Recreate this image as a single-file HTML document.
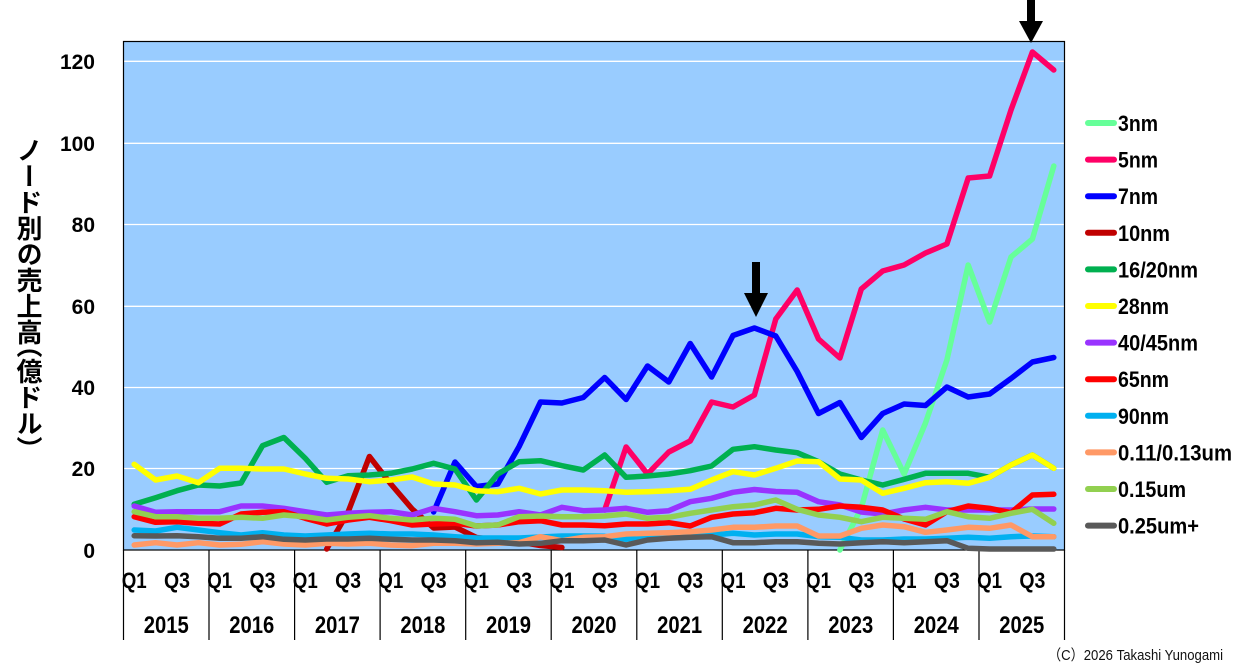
<!DOCTYPE html>
<html><head><meta charset="utf-8"><style>
html,body{margin:0;padding:0;background:#fff;}
body{width:1244px;height:672px;position:relative;overflow:hidden;}
svg{position:absolute;left:0;top:0;}
.yt{position:absolute;left:15px;top:137px;writing-mode:vertical-rl;font-family:"Liberation Sans","Noto Sans CJK JP",sans-serif;font-weight:bold;font-size:26px;line-height:26px;color:#000;letter-spacing:0;}
.yt .p{font-feature-settings:"vhal" 1;}
</style></head><body>
<svg width="1244" height="672" viewBox="0 0 1244 672" xmlns="http://www.w3.org/2000/svg">
<rect x="123.5" y="41.5" width="941" height="508.5" fill="#99CCFF"/>
<g stroke="#fff" stroke-width="1.3">
<line x1="124" y1="61.3" x2="1064" y2="61.3"/>
<line x1="124" y1="143.3" x2="1064" y2="143.3"/>
<line x1="124" y1="224.5" x2="1064" y2="224.5"/>
<line x1="124" y1="306.3" x2="1064" y2="306.3"/>
<line x1="124" y1="387.5" x2="1064" y2="387.5"/>
<line x1="124" y1="468.5" x2="1064" y2="468.5"/>
</g>
<rect x="123.5" y="41.5" width="941" height="508.5" fill="none" stroke="#000" stroke-width="1.2"/>
<g stroke="#000" stroke-width="1.2">
<line x1="123.5" y1="550" x2="123.5" y2="640"/>
<line x1="209" y1="550" x2="209" y2="640"/>
<line x1="294.6" y1="550" x2="294.6" y2="640"/>
<line x1="380.1" y1="550" x2="380.1" y2="640"/>
<line x1="465.7" y1="550" x2="465.7" y2="640"/>
<line x1="551.2" y1="550" x2="551.2" y2="640"/>
<line x1="636.8" y1="550" x2="636.8" y2="640"/>
<line x1="722.3" y1="550" x2="722.3" y2="640"/>
<line x1="807.9" y1="550" x2="807.9" y2="640"/>
<line x1="893.4" y1="550" x2="893.4" y2="640"/>
<line x1="979" y1="550" x2="979" y2="640"/>
<line x1="1064.5" y1="550" x2="1064.5" y2="640"/>
</g>
<g fill="none" stroke-width="5.5" stroke-linejoin="round" stroke-linecap="round">
<polyline stroke="#66FF99" points="839.9,550 861.3,508 882.7,430 904.1,474 925.5,423 946.9,360 968.2,265 989.6,322 1011,257 1032.4,239 1053.8,166"/>
<polyline stroke="#FF0066" points="604.7,510 626.1,447 647.5,474 668.8,452 690.2,441 711.6,402 733,407 754.4,395 775.8,319 797.2,290 818.5,339 839.9,358 861.3,289 882.7,271 904.1,265 925.5,253 946.9,244 968.2,178 989.6,176 1011,110 1032.4,52 1053.8,70"/>
<polyline stroke="#0000FF" points="433.6,512 455,462 476.4,486.5 497.8,484 519.1,446.5 540.5,402 561.9,403 583.3,397.5 604.7,377.5 626.1,399.5 647.5,366 668.8,382 690.2,343.5 711.6,377 733,335.5 754.4,328 775.8,336 797.2,371.5 818.5,413.5 839.9,402.5 861.3,437.5 882.7,413.5 904.1,404 925.5,405.5 946.9,387 968.2,397 989.6,394 1011,378.5 1032.4,362 1053.8,357.5"/>
<polyline stroke="#C00000" points="326.7,549 348.1,512 369.4,456.5 390.8,484 412.2,509 433.6,528 455,527 476.4,537.5 497.8,540 519.1,542 540.5,545.5 561.9,547.5"/>
<polyline stroke="#00B050" points="134.2,504.3 155.6,497.7 177,490.7 198.4,485 219.7,486 241.1,483 262.5,445.7 283.9,437.5 305.3,458.3 326.7,482.3 348.1,475.7 369.4,475 390.8,473.3 412.2,469 433.6,463.3 455,469 476.4,500 497.8,474 519.1,461.7 540.5,460.7 561.9,465.7 583.3,470 604.7,455 626.1,477.3 647.5,476 668.8,474 690.2,470.7 711.6,466 733,449.3 754.4,446.7 775.8,450 797.2,452.7 818.5,461.7 839.9,474 861.3,480 882.7,485 904.1,479.3 925.5,473.3 946.9,473.3 968.2,473.3 989.6,477.3 1011,465 1032.4,455 1053.8,468.3"/>
<polyline stroke="#FFFF00" points="134.2,464.3 155.6,480 177,476 198.4,482.7 219.7,468.3 241.1,468.3 262.5,469 283.9,469 305.3,474 326.7,478.3 348.1,479 369.4,481.7 390.8,480 412.2,477 433.6,484 455,485 476.4,490.7 497.8,491.7 519.1,488.3 540.5,494 561.9,490 583.3,490 604.7,490.7 626.1,492.3 647.5,491.7 668.8,490.7 690.2,489.3 711.6,480 733,471.7 754.4,475 775.8,468.3 797.2,461 818.5,461.7 839.9,479 861.3,480 882.7,493.3 904.1,488.3 925.5,482.7 946.9,481.7 968.2,483.3 989.6,477.3 1011,465 1032.4,455 1053.8,468.3"/>
<polyline stroke="#9933FF" points="134.2,506 155.6,512.3 177,511.7 198.4,511.7 219.7,511.7 241.1,506 262.5,506 283.9,508.3 305.3,511.7 326.7,515 348.1,513.3 369.4,512.3 390.8,511.7 412.2,515 433.6,508.3 455,511.7 476.4,515.7 497.8,515 519.1,511.7 540.5,515 561.9,507.3 583.3,510.7 604.7,510 626.1,508.3 647.5,512.3 668.8,510.7 690.2,501.7 711.6,498.3 733,492.3 754.4,489.5 775.8,491.5 797.2,492.3 818.5,501.7 839.9,505 861.3,512 882.7,514 904.1,510 925.5,507.3 946.9,510 968.2,510 989.6,510 1011,510 1032.4,509 1053.8,509"/>
<polyline stroke="#FF0000" points="134.2,516.7 155.6,522.3 177,521.7 198.4,523.3 219.7,524 241.1,514 262.5,512.3 283.9,511.7 305.3,518.3 326.7,524 348.1,520 369.4,517.3 390.8,520.7 412.2,525 433.6,524 455,523.3 476.4,526 497.8,525 519.1,521.7 540.5,520.7 561.9,525 583.3,525 604.7,525.7 626.1,524 647.5,524 668.8,522.7 690.2,526 711.6,517.3 733,514 754.4,512.7 775.8,508.3 797.2,510 818.5,509.3 839.9,506 861.3,507.3 882.7,510 904.1,519 925.5,525 946.9,511.7 968.2,506 989.6,508.3 1011,512.7 1032.4,495 1053.8,494.3"/>
<polyline stroke="#00B0F0" points="134.2,530 155.6,531 177,527.3 198.4,530 219.7,532.7 241.1,535 262.5,532.7 283.9,535 305.3,536 326.7,535 348.1,534 369.4,533.3 390.8,534 412.2,534 433.6,535 455,536.7 476.4,538 497.8,538 519.1,538 540.5,537 561.9,536 583.3,536 604.7,536.3 626.1,539.3 647.5,536 668.8,536 690.2,535.5 711.6,535 733,533.3 754.4,535 775.8,534 797.2,534 818.5,536.7 839.9,537.3 861.3,540 882.7,540 904.1,539 925.5,539 946.9,538.3 968.2,537.3 989.6,538.3 1011,536.7 1032.4,536 1053.8,536.7"/>
<polyline stroke="#FF9966" points="134.2,545 155.6,542.7 177,545 198.4,542.7 219.7,545 241.1,544.3 262.5,541.7 283.9,544 305.3,545 326.7,543.3 348.1,544 369.4,543.3 390.8,545 412.2,545.7 433.6,543.3 455,543.3 476.4,544 497.8,543.3 519.1,542.7 540.5,536.7 561.9,540.7 583.3,537.3 604.7,536.7 626.1,534 647.5,533.3 668.8,532.7 690.2,531.7 711.6,530 733,527.3 754.4,527.3 775.8,526 797.2,526 818.5,536 839.9,536 861.3,528.3 882.7,525 904.1,526.7 925.5,532.3 946.9,530 968.2,527.3 989.6,528.3 1011,525 1032.4,536.7 1053.8,536.7"/>
<polyline stroke="#92D050" points="134.2,511.7 155.6,516.7 177,516.7 198.4,518.3 219.7,518.3 241.1,517.3 262.5,518.3 283.9,515 305.3,516.7 326.7,520 348.1,517.3 369.4,515.7 390.8,518.3 412.2,520 433.6,518.3 455,519.3 476.4,526 497.8,525 519.1,516.7 540.5,516 561.9,516.7 583.3,516.7 604.7,516 626.1,514 647.5,518.3 668.8,517.3 690.2,513.3 711.6,510 733,506.7 754.4,505 775.8,500 797.2,509.3 818.5,515 839.9,517.3 861.3,521.7 882.7,517.3 904.1,518.3 925.5,519.3 946.9,511.7 968.2,516.7 989.6,518.3 1011,513.3 1032.4,509.3 1053.8,523.3"/>
<polyline stroke="#595959" points="134.2,535.7 155.6,536 177,535.7 198.4,536.7 219.7,538.3 241.1,538.3 262.5,536.7 283.9,539.3 305.3,540 326.7,539 348.1,539 369.4,538.3 390.8,539.3 412.2,540 433.6,540 455,540.7 476.4,542.7 497.8,542.3 519.1,544 540.5,543.3 561.9,540.7 583.3,540.7 604.7,540 626.1,545 647.5,540 668.8,538.3 690.2,537.3 711.6,536.7 733,542.7 754.4,542.7 775.8,541.7 797.2,541.7 818.5,543.3 839.9,544 861.3,542.7 882.7,541.7 904.1,542.7 925.5,541.7 946.9,540.7 968.2,548.3 989.6,549 1011,549 1032.4,549 1053.8,549"/>
</g>
<rect x="752" y="262" width="8" height="32" fill="#000"/>
<polygon points="744,293 768,293 756,317" fill="#000"/>
<rect x="1027" y="0" width="8" height="22" fill="#000"/>
<polygon points="1019,21 1043,21 1031,43" fill="#000"/>
<g font-family="Liberation Sans, Arial, sans-serif" font-weight="bold" font-size="21" fill="#000" text-anchor="end">
<text x="95" y="69">120</text>
<text x="95" y="151">100</text>
<text x="95" y="232">80</text>
<text x="95" y="314">60</text>
<text x="95" y="395">40</text>
<text x="95" y="476">20</text>
<text x="95" y="558">0</text>
</g>
<g font-family="Liberation Sans, Arial, sans-serif" font-weight="bold" font-size="22" fill="#000" text-anchor="middle">
<text x="134.2" y="588" textLength="25" lengthAdjust="spacingAndGlyphs">Q1</text>
<text x="177" y="588" textLength="26" lengthAdjust="spacingAndGlyphs">Q3</text>
<text x="219.7" y="588" textLength="25" lengthAdjust="spacingAndGlyphs">Q1</text>
<text x="262.5" y="588" textLength="26" lengthAdjust="spacingAndGlyphs">Q3</text>
<text x="305.3" y="588" textLength="25" lengthAdjust="spacingAndGlyphs">Q1</text>
<text x="348.1" y="588" textLength="26" lengthAdjust="spacingAndGlyphs">Q3</text>
<text x="390.8" y="588" textLength="25" lengthAdjust="spacingAndGlyphs">Q1</text>
<text x="433.6" y="588" textLength="26" lengthAdjust="spacingAndGlyphs">Q3</text>
<text x="476.4" y="588" textLength="25" lengthAdjust="spacingAndGlyphs">Q1</text>
<text x="519.1" y="588" textLength="26" lengthAdjust="spacingAndGlyphs">Q3</text>
<text x="561.9" y="588" textLength="25" lengthAdjust="spacingAndGlyphs">Q1</text>
<text x="604.7" y="588" textLength="26" lengthAdjust="spacingAndGlyphs">Q3</text>
<text x="647.5" y="588" textLength="25" lengthAdjust="spacingAndGlyphs">Q1</text>
<text x="690.2" y="588" textLength="26" lengthAdjust="spacingAndGlyphs">Q3</text>
<text x="733" y="588" textLength="25" lengthAdjust="spacingAndGlyphs">Q1</text>
<text x="775.8" y="588" textLength="26" lengthAdjust="spacingAndGlyphs">Q3</text>
<text x="818.5" y="588" textLength="25" lengthAdjust="spacingAndGlyphs">Q1</text>
<text x="861.3" y="588" textLength="26" lengthAdjust="spacingAndGlyphs">Q3</text>
<text x="904.1" y="588" textLength="25" lengthAdjust="spacingAndGlyphs">Q1</text>
<text x="946.9" y="588" textLength="26" lengthAdjust="spacingAndGlyphs">Q3</text>
<text x="989.6" y="588" textLength="25" lengthAdjust="spacingAndGlyphs">Q1</text>
<text x="1032.4" y="588" textLength="26" lengthAdjust="spacingAndGlyphs">Q3</text>
</g>
<g font-family="Liberation Sans, Arial, sans-serif" font-weight="bold" font-size="24" fill="#000" text-anchor="middle">
<text x="166.3" y="633" textLength="45" lengthAdjust="spacingAndGlyphs">2015</text>
<text x="251.8" y="633" textLength="45" lengthAdjust="spacingAndGlyphs">2016</text>
<text x="337.4" y="633" textLength="45" lengthAdjust="spacingAndGlyphs">2017</text>
<text x="422.9" y="633" textLength="45" lengthAdjust="spacingAndGlyphs">2018</text>
<text x="508.5" y="633" textLength="45" lengthAdjust="spacingAndGlyphs">2019</text>
<text x="594" y="633" textLength="45" lengthAdjust="spacingAndGlyphs">2020</text>
<text x="679.6" y="633" textLength="45" lengthAdjust="spacingAndGlyphs">2021</text>
<text x="765.1" y="633" textLength="45" lengthAdjust="spacingAndGlyphs">2022</text>
<text x="850.7" y="633" textLength="45" lengthAdjust="spacingAndGlyphs">2023</text>
<text x="936.2" y="633" textLength="45" lengthAdjust="spacingAndGlyphs">2024</text>
<text x="1021.8" y="633" textLength="45" lengthAdjust="spacingAndGlyphs">2025</text>
</g>
<g stroke-width="6" stroke-linecap="round">
<line x1="1088" y1="123" x2="1114" y2="123" stroke="#66FF99"/>
<line x1="1088" y1="159.6" x2="1114" y2="159.6" stroke="#FF0066"/>
<line x1="1088" y1="196.2" x2="1114" y2="196.2" stroke="#0000FF"/>
<line x1="1088" y1="232.8" x2="1114" y2="232.8" stroke="#C00000"/>
<line x1="1088" y1="269.4" x2="1114" y2="269.4" stroke="#00B050"/>
<line x1="1088" y1="306" x2="1114" y2="306" stroke="#FFFF00"/>
<line x1="1088" y1="342.6" x2="1114" y2="342.6" stroke="#9933FF"/>
<line x1="1088" y1="379.2" x2="1114" y2="379.2" stroke="#FF0000"/>
<line x1="1088" y1="415.8" x2="1114" y2="415.8" stroke="#00B0F0"/>
<line x1="1088" y1="452.4" x2="1114" y2="452.4" stroke="#FF9966"/>
<line x1="1088" y1="489" x2="1114" y2="489" stroke="#92D050"/>
<line x1="1088" y1="525.6" x2="1114" y2="525.6" stroke="#595959"/>
</g>
<g font-family="Liberation Sans, Arial, sans-serif" font-weight="bold" font-size="22" fill="#000">
<text x="1118" y="131" textLength="40" lengthAdjust="spacingAndGlyphs">3nm</text>
<text x="1118" y="167.6" textLength="40" lengthAdjust="spacingAndGlyphs">5nm</text>
<text x="1118" y="204.2" textLength="40" lengthAdjust="spacingAndGlyphs">7nm</text>
<text x="1118" y="240.8" textLength="52" lengthAdjust="spacingAndGlyphs">10nm</text>
<text x="1118" y="277.4" textLength="80" lengthAdjust="spacingAndGlyphs">16/20nm</text>
<text x="1118" y="314" textLength="51" lengthAdjust="spacingAndGlyphs">28nm</text>
<text x="1118" y="350.6" textLength="80" lengthAdjust="spacingAndGlyphs">40/45nm</text>
<text x="1118" y="387.2" textLength="51" lengthAdjust="spacingAndGlyphs">65nm</text>
<text x="1118" y="423.8" textLength="51" lengthAdjust="spacingAndGlyphs">90nm</text>
<text x="1118" y="460.4" textLength="114" lengthAdjust="spacingAndGlyphs">0.11/0.13um</text>
<text x="1118" y="497" textLength="68" lengthAdjust="spacingAndGlyphs">0.15um</text>
<text x="1118" y="533.6" textLength="81" lengthAdjust="spacingAndGlyphs">0.25um+</text>
</g>
<text x="1048" y="660" font-family="Liberation Sans, Noto Sans CJK JP, sans-serif" font-size="15" fill="#111" textLength="175" lengthAdjust="spacingAndGlyphs">（C）2026 Takashi Yunogami</text>
</svg>
<div class="yt">ノード別の売上高<span class="p">（</span>億ドル<span class="p">）</span></div>
</body></html>
